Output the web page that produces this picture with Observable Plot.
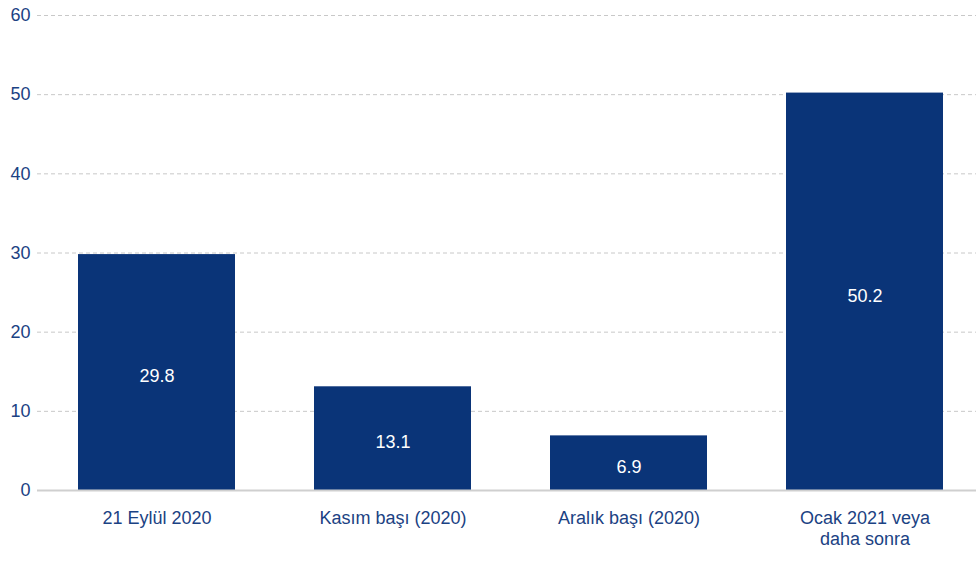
<!DOCTYPE html>
<html>
<head>
<meta charset="utf-8">
<script src="https://cdn.jsdelivr.net/npm/d3@7"></script>
<script src="https://cdn.jsdelivr.net/npm/@observablehq/plot@0.6"></script>
<style>
  html, body { margin: 0; padding: 0; background: #fff; }
  #chart { width: 976px; height: 561px; }
</style>
</head>
<body>
<div id="chart"></div>
<script>
const categories = ["21 Eylül 2020", "Kasım başı (2020)", "Aralık başı (2020)", "Ocak 2021 veya\ndaha sonra"];
const values = [29.8, 13.1, 6.9, 50.2];
const yTicks = [0, 10, 20, 30, 40, 50, 60];

const data = categories.map((c, i) => ({category: c, value: values[i]}));
const navy = "#0a3478";
const textColor = "#1b4283";

const chart = Plot.plot({
  width: 976,
  height: 561,
  marginLeft: 37,
  marginRight: 0,
  marginTop: 15,
  marginBottom: 71,
  style: {fontFamily: "Liberation Sans, Arial, sans-serif", fontSize: "18px", background: "#fff"},
  x: {domain: categories, paddingInner: 0.335, paddingOuter: 0.1675, range: [37, 984], label: null},
  y: {domain: [0, 60], label: null},
  marks: [
    Plot.ruleY(yTicks.filter(d => d > 0), {stroke: "#c8c8c8", strokeDasharray: "4,3", strokeWidth: 1}),
    Plot.barY(data, {x: "category", y: "value", fill: navy}),
    Plot.ruleY([0], {stroke: "#cfcfcf", strokeWidth: 2}),
    Plot.text(data, {x: "category", y: d => d.value / 2, text: d => d.value.toFixed(1), fill: "white", fontSize: 18, dy: 4}),
    Plot.axisY({ticks: yTicks, tickSize: 0, tickPadding: 7, fill: textColor, fontSize: 18, label: null}),
    Plot.axisX({tickSize: 0, tickPadding: 19, fill: textColor, fontSize: 18, lineHeight: 1.15, label: null})
  ]
});
document.getElementById("chart").appendChild(chart);
</script>
</body>
</html>
